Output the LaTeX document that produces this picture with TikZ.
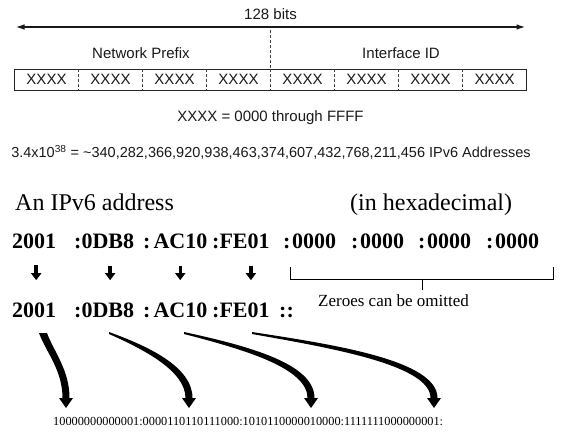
\documentclass[tikz,border=0pt]{standalone}
\usepackage{fontspec}
\setmainfont{Liberation Serif}
\newfontfamily\arialf{Liberation Sans}
\usetikzlibrary{arrows.meta,calc}
\begin{document}
\begin{tikzpicture}[x=1pt,y=-1pt,
  sanslbl/.style={font=\arialf\fontsize{15}{18}\selectfont, text=black!90, inner sep=0pt},
  titlef/.style={font=\fontsize{24}{28}\selectfont, inner sep=0pt, anchor=base west},
  hexbold/.style={font=\bfseries\fontsize{22}{26}\selectfont, inner sep=0pt, anchor=base west},
  divline/.style={dash pattern=on 3pt off 2pt, line width=0.7pt, black!75},
  smallarr/.style={line width=3.5pt, -{Triangle[length=7pt,width=10pt]}, shorten <=17pt, shorten >=22pt},
  bigarr/.style={fill=black}
]
\useasboundingbox (0,0) rectangle (561,434);

% ---------- top part ----------
\node[sanslbl] (bits) at (270.5,14) {128 bits};
\coordinate (al) at (14.5,27);
\coordinate (ar) at (526.5,27);
\draw[line width=2.2pt, black!90, {Latex[length=10pt,width=5.5pt]}-{Latex[length=10pt,width=5.5pt]}] (al) -- (ar);
\draw[divline] (270.5,30) -- (270.5,69);
\node[sanslbl] (np) at (141,53) {Network Prefix};
\node[sanslbl] (iid) at (401,53) {Interface ID};
\draw[line width=0.8pt, black!85] (14.5,69) rectangle (526.5,90);
\foreach \i in {1,...,7} \draw[divline] (14.5+64*\i,69) -- (14.5+64*\i,90);
\foreach \i in {0,...,7} \node[sanslbl] (c\i) at (46.5+64*\i,79.5) {XXXX};
\node[sanslbl] (range) at (270.5,118) {XXXX = 0000 through FFFF};
\node[sanslbl, font=\arialf\fontsize{14.5}{17}\selectfont] (count) at (271,152)
  {3.4x10\textsuperscript{38} = \textasciitilde340,282,366,920,938,463,374,607,432,768,211,456 IPv6 Addresses};

% ---------- lower part ----------
\node[titlef] (t1) at (15,210) {An IPv6 address};
\node[titlef] (t2) at (350,210) {(in hexadecimal)};

\node[hexbold] (r1a) at (12,248) {2001};
\node[hexbold] (r1b) at (74,248) {:0DB8};
\node[hexbold] (r1c) at (143,248) {:\kern3pt AC10};
\node[hexbold] (r1d) at (212,248) {:FE01};
\node[hexbold] (r1e) at (283,248) {:\kern1.5pt 0000};
\node[hexbold] (r1f) at (351,248) {:\kern1.5pt 0000};
\node[hexbold] (r1g) at (418,248) {:\kern1.5pt 0000};
\node[hexbold] (r1h) at (486,248) {:\kern1.5pt 0000};

\node[hexbold] (r2a) at (12,317) {2001};
\node[hexbold] (r2b) at (74,317) {:0DB8};
\node[hexbold] (r2c) at (143,317) {:\kern3pt AC10};
\node[hexbold] (r2d) at (212,317) {:FE01};
\node[hexbold] (r2e) at (279,317) {::};

\draw[smallarr] ([xshift=2pt]r1a.south) -- ([xshift=2pt]r2a.north);
\draw[smallarr] ([xshift=6pt]r1b.south) -- ([xshift=6pt]r2b.north);
\draw[smallarr] ([xshift=5pt]r1c.south) -- ([xshift=5pt]r2c.north);
\draw[smallarr] ([xshift=10pt]r1d.south) -- ([xshift=10pt]r2d.north);

\draw[line width=0.9pt] (290,267) -- (290,279) -- (553,279) -- (553,267);
\draw[line width=0.9pt] (422,279) -- (422,290);
\node[font=\fontsize{17}{20}\selectfont, inner sep=0pt, anchor=base west] (zer) at (318,306) {Zeroes can be omitted};

\node[font=\fontsize{12.3}{14}\selectfont, inner sep=0pt, anchor=base west] (bin) at (53,425)
  {10000000000001:0000110110111000:1010110000010000:1111111000000001:};

% curved tapered arrows
\coordinate (s1) at (43,333); \coordinate (e1) at (66,398);
\coordinate (s2) at (109,333); \coordinate (e2) at (189,398);
\coordinate (s3) at (184,333); \coordinate (e3) at (311,398);
\coordinate (s4) at (252,333); \coordinate (e4) at (434,398);

\fill[bigarr] ($(s1)+(-4,0)$) .. controls (46,352) and (62.5,370) .. ($(e1)+(-3.5,0)$)
   -- ($(e1)+(3.5,0)$) .. controls (69.5,370) and (54,352) .. ($(s1)+(4,0)$) -- cycle;
\fill[bigarr] ($(s2)+(0,-1)$) .. controls (146,345.5) and (192.5,366) .. ($(e2)+(3.5,0)$)
   -- ($(e2)+(-3.5,0)$) .. controls (185.5,371) and (144,349.5) .. ($(s2)+(0,1)$) -- cycle;
\fill[bigarr] ($(s3)+(0,-1)$) .. controls (246,345.5) and (314.5,363) .. ($(e3)+(3.5,0)$)
   -- ($(e3)+(-3.5,0)$) .. controls (307.5,368) and (244,349.5) .. ($(s3)+(0,1)$) -- cycle;
\fill[bigarr] ($(s4)+(0,-1)$) .. controls (333,344.5) and (437.5,360) .. ($(e4)+(3.5,0)$)
   -- ($(e4)+(-3.5,0)$) .. controls (430.5,365) and (331,348) .. ($(s4)+(0,1)$) -- cycle;

\foreach \k in {1,...,4}
  \fill[bigarr] ($(e\k)+(-7,0)$) -- ($(e\k)+(7,0)$) -- ($(e\k)+(0,10)$) -- cycle;
\end{tikzpicture}
\end{document}
